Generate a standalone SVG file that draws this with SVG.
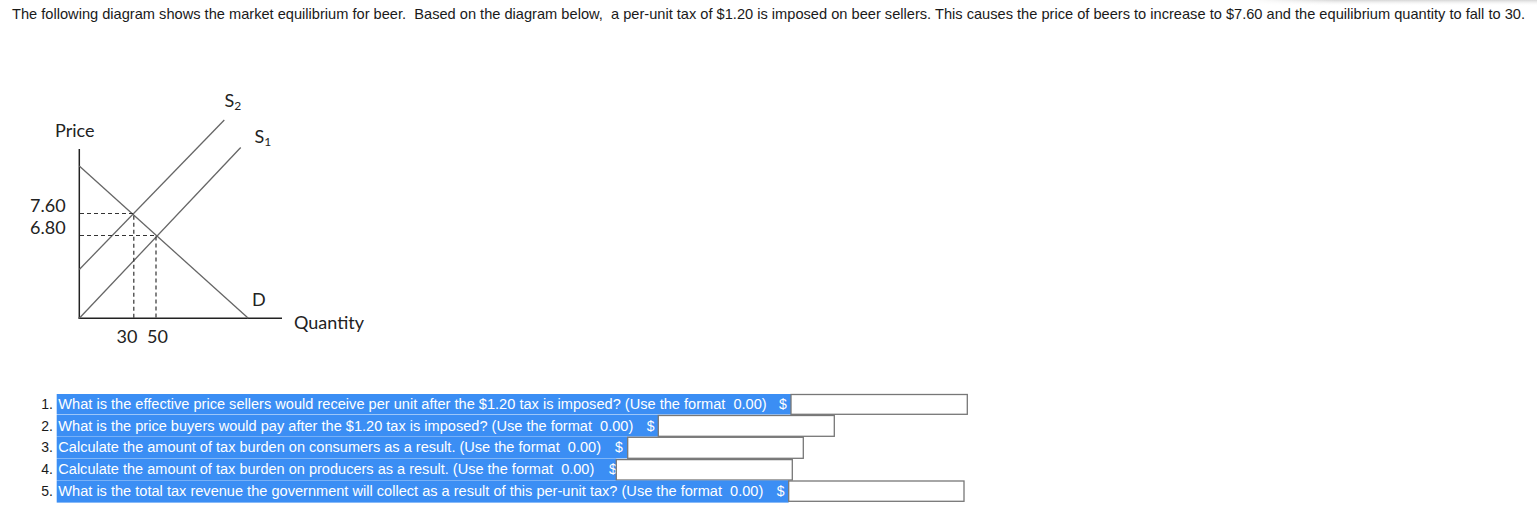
<svg xmlns="http://www.w3.org/2000/svg" width="1537" height="505" viewBox="0 0 1537 505">
<style>
.hd{font-family:"Liberation Sans",Arial,sans-serif;font-size:14.6px;fill:#1a1a1a}
.q{font-family:"Liberation Sans",Arial,sans-serif;font-size:14px;fill:#ffffff;white-space:pre}
.n{font-family:"Liberation Sans",Arial,sans-serif;font-size:14px;fill:#1a1a1a;text-anchor:end}
.g{font-family:Lato,"Open Sans",sans-serif;font-size:18px;fill:#222}
.sub{font-size:12px}
.hl{fill:#3b8ef4}
.box{fill:#fff;stroke:#777;stroke-width:1.3}
.ax{stroke:#222;stroke-width:1.5;fill:none}
.cv{stroke:#666;stroke-width:1.3;fill:none}
.ds{stroke:#333;stroke-width:1.2;stroke-dasharray:4 3;fill:none}
</style>
<defs>
<linearGradient id="sh" x1="0" y1="0" x2="0" y2="1">
<stop offset="0" stop-color="#bbb" stop-opacity="0.6"/>
<stop offset="1" stop-color="#fff" stop-opacity="0"/>
</linearGradient>
<linearGradient id="shx" x1="0" y1="0" x2="1" y2="0">
<stop offset="0" stop-color="#fff" stop-opacity="1"/>
<stop offset="0.3" stop-color="#fff" stop-opacity="0"/>
</linearGradient>
</defs>
<rect width="1537" height="505" fill="#fff"/>
<rect x="1250" y="0" width="287" height="6" fill="url(#sh)"/>
<rect x="1250" y="0" width="287" height="6" fill="url(#shx)"/>

<g id="heading">
<text class="hd" x="12" y="19" textLength="1513" lengthAdjust="spacingAndGlyphs" xml:space="preserve">The following diagram shows the market equilibrium for beer.  Based on the diagram below,  a per-unit tax of $1.20 is imposed on beer sellers. This causes the price of beers to increase to $7.60 and the equilibrium quantity to fall to 30.</text>
</g>

<g id="graph">
<g id="axes">
<line class="ax" x1="79.3" y1="149" x2="79.3" y2="318.3"/>
<line class="ax" x1="78.5" y1="318.3" x2="282" y2="318.3"/>
</g>
<g id="connectors">
<line id="demand" class="cv" x1="79.3" y1="166" x2="248.3" y2="318.3"/>
<line id="s2" class="cv" x1="79.3" y1="269.5" x2="224.3" y2="120"/>
<line id="s1" class="cv" x1="79.3" y1="318.3" x2="240.7" y2="147.5"/>
<polyline class="ds" points="80,213.5 133.8,213.5 133.8,318"/>
<polyline class="ds" points="80,235.5 156,235.5 156,318"/>
</g>
<g id="labels">
<text class="g" x="55" y="136.5">Price</text>
<text class="g" x="224.5" y="107.3">S<tspan class="sub" dy="3">2</tspan></text>
<text class="g" x="254.5" y="142.7">S<tspan class="sub" dy="3">1</tspan></text>
<text class="g" x="30" y="212.3">7.60</text>
<text class="g" x="30" y="234.3">6.80</text>
<text class="g" x="252" y="305.5">D</text>
<text class="g" x="294" y="328.5">Quantity</text>
<text class="g" x="116.5" y="343.3">30</text>
<text class="g" x="147" y="343.3">50</text>
</g>
</g>

<g id="q1">
<rect class="hl" x="56.7" y="394" width="734.3" height="20.5"/>
<text class="n" x="53" y="409">1.</text>
<text class="q" x="58.3" y="409" textLength="708.4" lengthAdjust="spacingAndGlyphs">What is the effective price sellers would receive per unit after the $1.20 tax is imposed? (Use the format  0.00)</text>
<text class="q" x="779" y="409">$</text>
<rect class="box" x="791" y="394.5" width="176.3" height="19.8"/>
</g>
<g id="q2">
<rect class="hl" x="56.7" y="415" width="601.6" height="21.6"/>
<text class="n" x="53" y="430.7">2.</text>
<text class="q" x="58.3" y="430.7" textLength="575" lengthAdjust="spacingAndGlyphs">What is the price buyers would pay after the $1.20 tax is imposed? (Use the format  0.00)</text>
<text class="q" x="646.7" y="430.7">$</text>
<rect class="box" x="658.3" y="415.5" width="176" height="20.8"/>
</g>
<g id="q3">
<rect class="hl" x="56.7" y="436.8" width="571" height="21.6"/>
<text class="n" x="53" y="452.3">3.</text>
<text class="q" x="58.3" y="452.3" textLength="542.7" lengthAdjust="spacingAndGlyphs">Calculate the amount of tax burden on consumers as a result. (Use the format  0.00)</text>
<text class="q" x="615" y="452.3">$</text>
<rect class="box" x="627.7" y="437.3" width="175.6" height="21"/>
</g>
<g id="q4">
<rect class="hl" x="56.7" y="458.6" width="559.6" height="21.6"/>
<text class="n" x="53" y="474">4.</text>
<text class="q" x="58.3" y="474" textLength="536" lengthAdjust="spacingAndGlyphs">Calculate the amount of tax burden on producers as a result. (Use the format  0.00)</text>
<text class="q" x="609" y="474">$</text>
<rect class="box" x="616.3" y="459.6" width="176" height="20.4"/>
</g>
<g id="q5">
<rect class="hl" x="56.7" y="480.4" width="732" height="22.2"/>
<text class="n" x="53" y="495.7">5.</text>
<text class="q" x="58.3" y="495.7" textLength="705" lengthAdjust="spacingAndGlyphs">What is the total tax revenue the government will collect as a result of this per-unit tax? (Use the format  0.00)</text>
<text class="q" x="776.7" y="495.7">$</text>
<rect class="box" x="788.7" y="481" width="175.3" height="20.3"/>
</g>
</svg>
